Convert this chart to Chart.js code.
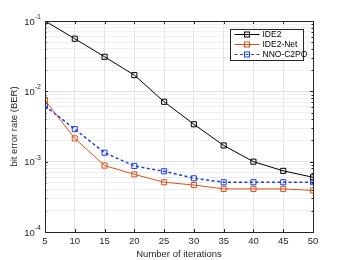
<!DOCTYPE html>
<html>
<head>
<meta charset="utf-8">
<script src="https://cdn.jsdelivr.net/npm/chart.js@4"></script>
<style>
  html, body { margin: 0; padding: 0; background: #fff; }
  #wrap { width: 346px; height: 260px; }
</style>
</head>
<body>
<div id="wrap"><canvas id="chart" width="346" height="260"></canvas></div>
<script>
// data
const iterations = [5, 10, 15, 20, 25, 30, 35, 40, 45, 50];
const ide2    = [0.1, 0.056, 0.031, 0.017, 0.0071, 0.0034, 0.0017, 0.00100, 0.00074, 0.00060];
const ide2Net = [0.0075, 0.00214, 0.00088, 0.00066, 0.00051, 0.000465, 0.00041, 0.00041, 0.00041, 0.00039];
const nnoC2po = [0.0062, 0.0029, 0.00134, 0.00087, 0.00073, 0.00058, 0.00051, 0.00051, 0.00051, 0.00051];
const yDecades = [1e-4, 1e-3, 1e-2, 1e-1];
const yExponents = ["-4", "-3", "-2", "-1"];

const FONT = "'Liberation Sans', Arial, sans-serif";
const RED = "#D95319";
const BLUE = "#1f3fe6";

function toPts(arr) {
  return iterations.map((x, i) => ({ x: x, y: arr[i] }));
}

// ===============================
// axes box, ticks, y labels, legend
// ===============================
const matlabAxes = {
  id: "matlabAxes",
  afterDraw(chart) {
    const c = chart.ctx;
    const a = chart.chartArea;
    const xs = chart.scales.x, ys = chart.scales.y;
    c.save();
    c.strokeStyle = "#262626";
    c.lineWidth = 1;
    c.strokeRect(Math.round(a.left) + 0.5, Math.round(a.top) + 0.5,
      Math.round(a.right - a.left), Math.round(a.bottom - a.top));

    // x tick marks (inward, top + bottom)
    c.beginPath();
    iterations.forEach(v => {
      const px = Math.round(xs.getPixelForValue(v)) + 0.5;
      c.moveTo(px, a.bottom); c.lineTo(px, a.bottom - 3);
      c.moveTo(px, a.top); c.lineTo(px, a.top + 3);
    });
    // y ticks, major and minor
    for (let d = -4; d <= -1; d++) {
      for (let m = 1; m <= 9; m++) {
        const v = m * Math.pow(10, d);
        if (v > 0.1000001) break;
        const py = Math.round(ys.getPixelForValue(v)) + 0.5;
        const len = m === 1 ? 3 : 1.5;
        c.moveTo(a.left, py); c.lineTo(a.left + len, py);
        c.moveTo(a.right, py); c.lineTo(a.right - len, py);
      }
    }
    c.stroke();

    // y labels 10^n
    c.fillStyle = "#262626";
    c.textBaseline = "middle";
    yDecades.forEach((v, i) => {
      const py = ys.getPixelForValue(v);
      c.font = "7px " + FONT;
      const ew = c.measureText(yExponents[i]).width;
      c.textAlign = "right";
      c.fillText(yExponents[i], a.left - 4, py - 4);
      c.font = "9.5px " + FONT;
      c.fillText("10", a.left - 4 - ew, py + 1);
    });

    // legend
    const lx = 230.5, ly = 29.5, lw = 73, lh = 31;
    c.fillStyle = "#fff";
    c.fillRect(lx, ly, lw, lh);
    c.strokeStyle = "#262626";
    c.strokeRect(lx, ly, lw, lh);
    chart.data.datasets.forEach((ds, i) => {
      const yy = ly + 5 + i * 10;
      c.strokeStyle = ds.borderColor;
      c.lineWidth = 1;
      c.setLineDash(ds.borderDash || []);
      c.beginPath();
      c.moveTo(lx + 4, yy); c.lineTo(lx + 29, yy);
      c.stroke();
      c.setLineDash([]);
      c.strokeRect(lx + 14, yy - 2.5, 5, 5);
      c.fillStyle = "#000";
      c.font = "8.5px " + FONT;
      c.textAlign = "left";
      c.textBaseline = "middle";
      c.fillText(ds.label, lx + 32, yy + 0.5);
    });
    c.restore();
  }
};

const ctx = document.getElementById("chart").getContext("2d");

new Chart(ctx, {
  type: "line",
  data: {
    datasets: [
      {
        label: "IDE2",
        data: toPts(ide2),
        borderColor: "#000",
        borderWidth: 1,
        pointStyle: "rect",
        pointRadius: 3.6,
        pointBorderWidth: 1,
        pointBackgroundColor: "rgba(0,0,0,0)",
        pointBorderColor: "#000"
      },
      {
        label: "IDE2-Net",
        data: toPts(ide2Net),
        borderColor: RED,
        borderWidth: 1,
        pointStyle: "rect",
        pointRadius: 3.6,
        pointBorderWidth: 1,
        pointBackgroundColor: "rgba(0,0,0,0)",
        pointBorderColor: RED
      },
      {
        label: "NNO-C2PO",
        data: toPts(nnoC2po),
        borderColor: BLUE,
        borderWidth: 1.5,
        borderDash: [3, 2.5],
        pointStyle: "rect",
        pointRadius: 3.6,
        pointBorderWidth: 1,
        pointBackgroundColor: "rgba(0,0,0,0)",
        pointBorderColor: BLUE
      }
    ]
  },
  options: {
    responsive: false,
    animation: false,
    layout: { padding: { top: 21, right: 33, left: 0, bottom: 0 } },
    plugins: { legend: { display: false }, tooltip: { enabled: false } },
    scales: {
      x: {
        type: "linear",
        min: 5,
        max: 50,
        afterBuildTicks: s => { s.ticks = iterations.map(v => ({ value: v })); },
        afterFit: s => { s.height = 28; },
        grid: { color: "#e3e3e3", drawTicks: false },
        border: { display: false },
        ticks: { color: "#262626", font: { family: FONT, size: 9.5 }, padding: 4, maxRotation: 0 },
        title: { display: true, text: "Number of iterations", color: "#262626",
                 font: { family: FONT, size: 9.5 }, padding: { top: 0, bottom: 0 } }
      },
      y: {
        type: "logarithmic",
        min: 1e-4,
        max: 1e-1,
        afterBuildTicks: s => {
          const t = [];
          for (let d = -4; d <= -1; d++) {
            for (let m = 1; m <= 9; m++) {
              const v = m * Math.pow(10, d);
              if (v > 0.1000001) break;
              t.push({ value: v, major: m === 1 });
            }
          }
          s.ticks = t;
        },
        afterFit: s => { s.width = 45; },
        grid: {
          color: c => (c.tick && c.tick.major) ? "#e0e0e0" : "#efefef",
          drawTicks: false
        },
        border: { display: false },
        ticks: { display: false },
        title: { display: true, text: "bit error rate (BER)", color: "#262626",
                 font: { family: FONT, size: 9.5 }, padding: { top: 9, bottom: 0 } }
      }
    }
  },
  plugins: [matlabAxes]
});
</script>
</body>
</html>
